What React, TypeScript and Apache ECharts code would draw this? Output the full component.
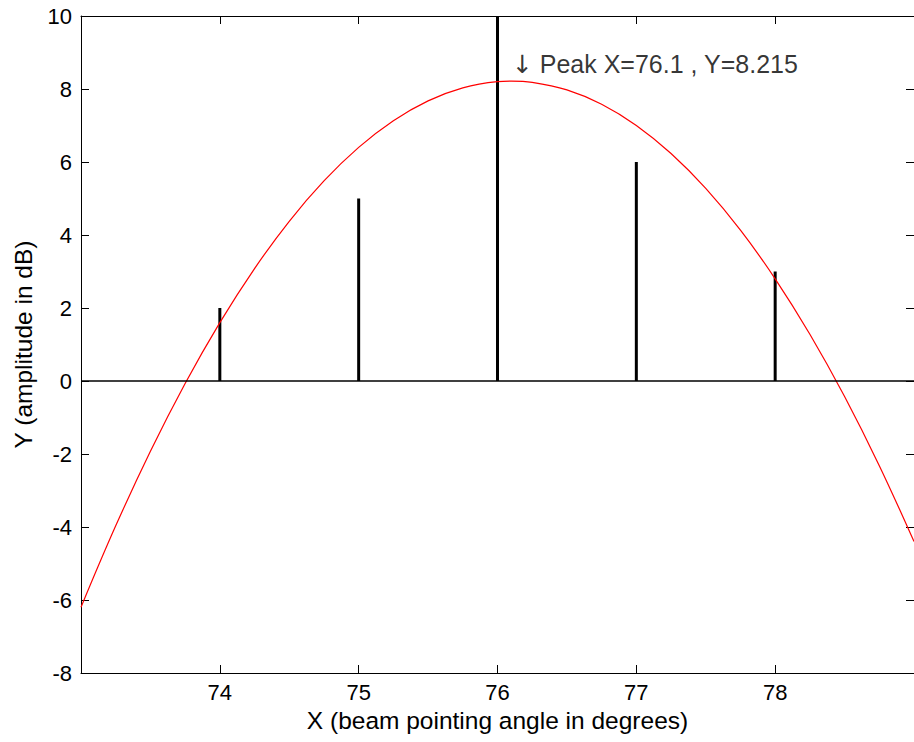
import React, { useEffect, useRef } from "react";
import * as echarts from "echarts";

// Stem data (beam pointing angle vs amplitude)
const stemX = [74, 75, 76, 77, 78];
const stemY = [2, 5, 10, 6, 3];

// Red fitted curve
const curveX = [73, 73.25, 73.5, 73.75, 74, 74.25, 74.5, 74.75, 75, 75.25, 75.5, 75.75, 76, 76.1, 76.25, 76.5, 76.75, 77, 77.25, 77.5, 77.75, 78, 78.25, 78.5, 78.75, 79];
const curveY = [-6.2, -3.969, -1.925, -0.069, 1.6, 3.081, 4.375, 5.481, 6.4, 7.131, 7.675, 8.031, 8.2, 8.215, 8.181, 7.975, 7.581, 7.0, 6.231, 5.275, 4.131, 2.8, 1.281, -0.425, -2.319, -4.4];

// Peak annotation
const peakX = 76.1;
const peakY = 8.215;

// Axis ranges / ticks
const xMin = 73;
const xMax = 79;
const xStep = 1;
const yMin = -8;
const yMax = 10;
const yStep = 2;

const FONT = "'Liberation Sans', Arial, Helvetica, sans-serif";

export default function App() {
  const ref = useRef<HTMLDivElement>(null);

  useEffect(() => {
    if (!ref.current) return;
    const chart = echarts.init(ref.current, undefined, { renderer: "svg" });

    const axisCommon = {
      type: "value" as const,
      axisLine: { show: true, onZero: false, lineStyle: { color: "#000", width: 1 } },
      axisTick: { show: true, inside: true, length: 8, lineStyle: { color: "#000", width: 1 } },
      splitLine: { show: false },
    };

    chart.setOption({
      animation: false,
      backgroundColor: "#fff",
      textStyle: { fontFamily: FONT },
      grid: { left: 81, top: 16, width: 834, height: 657, containLabel: false },
      xAxis: [
        {
          ...axisCommon,
          position: "bottom",
          min: xMin,
          max: xMax,
          interval: xStep,
          axisLabel: {
            show: true,
            color: "#000",
            fontSize: 22,
            fontFamily: FONT,
            margin: 8,
            showMinLabel: false,
            showMaxLabel: false,
          },
          name: "X (beam pointing angle in degrees)",
          nameLocation: "middle",
          nameGap: 33,
          nameTextStyle: { color: "#000", fontSize: 24.5, fontFamily: FONT },
        },
        {
          ...axisCommon,
          position: "top",
          min: xMin,
          max: xMax,
          interval: xStep,
          axisLabel: { show: false },
        },
      ],
      yAxis: [
        {
          ...axisCommon,
          position: "left",
          min: yMin,
          max: yMax,
          interval: yStep,
          axisLabel: { show: true, color: "#000", fontSize: 22, fontFamily: FONT, margin: 9 },
          name: "Y (amplitude in dB)",
          nameLocation: "middle",
          nameRotate: 90,
          nameGap: 45,
          nameTextStyle: { color: "#000", fontSize: 24.5, fontFamily: FONT },
        },
        {
          ...axisCommon,
          position: "right",
          min: yMin,
          max: yMax,
          interval: yStep,
          axisLabel: { show: false },
        },
      ],
      series: [
        {
          type: "line",
          name: "fit",
          data: curveX.map((x, i) => [x, curveY[i]]),
          showSymbol: false,
          symbol: "none",
          smooth: 0.4,
          lineStyle: { color: "#ff0000", width: 1.2 },
          z: 3,
        },
        {
          type: "custom",
          name: "stems",
          data: stemX.map((x, i) => [x, stemY[i]]),
          renderItem: (params: any, api: any) => {
            const p0 = api.coord([api.value(0), 0]);
            const p1 = api.coord([api.value(0), api.value(1)]);
            return {
              type: "line",
              shape: { x1: p0[0], y1: p0[1], x2: p1[0], y2: p1[1] },
              style: { stroke: "#000", lineWidth: 3 },
            };
          },
          markLine: {
            silent: true,
            symbol: "none",
            label: { show: false },
            lineStyle: { color: "#000", width: 1.5, type: "solid" },
            data: [{ yAxis: 0 }],
          },
          z: 2,
        },
        {
          type: "scatter",
          name: "peak",
          data: [[peakX, peakY]],
          symbolSize: 1,
          itemStyle: { color: "rgba(0,0,0,0)" },
          label: {
            show: true,
            position: "right",
            distance: 0,
            offset: [0, -17],
            formatter: `{a|\u2193} Peak X=${peakX} , Y=${peakY}`,
            color: "#000",
            fontSize: 25,
            fontFamily: FONT,
            rich: {
              a: { fontFamily: "'DejaVu Sans', sans-serif", fontSize: 25, color: "#000" },
            },
          },
          z: 4,
        },
      ],
    });

    return () => chart.dispose();
  }, []);

  return (
    <div
      ref={ref}
      style={{ position: "absolute", left: 0, top: 0, width: 914, height: 742, background: "#fff" }}
    />
  );
}
